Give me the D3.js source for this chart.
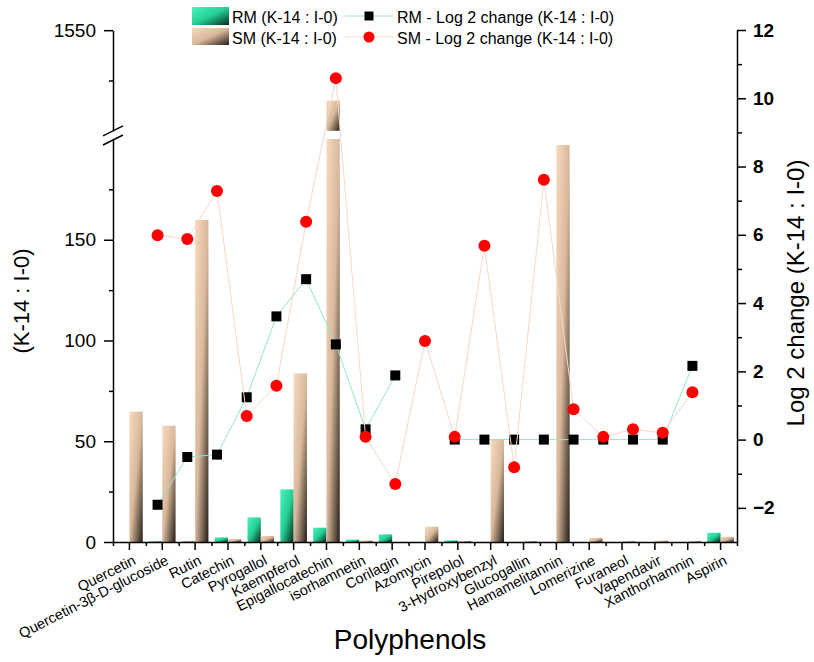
<!DOCTYPE html>
<html>
<head>
<meta charset="utf-8">
<script src="https://cdn.jsdelivr.net/npm/d3@7"></script>
<style>
  body { margin: 0; background: #fff; }
  svg { display: block; }
  text { font-family: "Liberation Sans", Arial, sans-serif; fill: #000; }
</style>
</head>
<body>
<svg id="chart" width="814" height="662"></svg>
<script>
// Polyphenol levels, ratio K-14 : I-0, for root (RM) and stem (SM) material
const categories = ["Quercetin", "Quercetin-3β-D-glucoside", "Rutin", "Catechin", "Pyrogallol",
  "Kaempferol", "Epigallocatechin", "isorhamnetin", "Corilagin", "Azomycin", "Pirepolol",
  "3-Hydroxybenzyl", "Glucogallin", "Hamamelitannin", "Lomerizine", "Furaneol", "Vapendavir",
  "Xanthorhamnin", "Aspirin"];

const rmAmount = [0, 0.4, 0.4, 2.3, 12.2, 26.1, 7.1, 1.2, 3.8, 0, 0.8, 0, 0, 0, 0, 0, 0, 0, 4.6];
const smAmount = [64.7, 57.7, 159.8, 1.5, 3.0, 83.7, 1515, 0.8, 0, 7.6, 0.6, 51.1, 0.5, 197, 2.1, 0.5, 0.7, 0.5, 2.6];

const rmLog2 = [-1.91, -0.51, -0.44, 1.24, 3.61, 4.70, 2.79, 0.30, 1.88, null, 0, 0, 0, 0, 0, 0, 0, 0, 2.16];
const smLog2 = [5.99, 5.88, 7.28, 0.69, 1.58, 6.38, 10.59, 0.08, -1.30, 2.89, 0.08, 5.68, -0.81, 7.61, 0.89, 0.08, 0.30, 0.20, 1.39];

const leftTicksLow = [0, 50, 100, 150];
const leftMinorLow = [25, 75, 125, 175];
const leftTicksHigh = [1550];
const leftMinorHigh = [1525];
const rightTicks = [-2, 0, 2, 4, 6, 8, 10, 12];
const rightMinor = [-1, 1, 3, 5, 7, 9, 11];

const svg = d3.select("#chart");
const X0 = 113, X1 = 737, YB = 542;

// scales: broken left axis (0–200 below the break, 1500–1550 above)
const x = d3.scaleBand().domain(categories).range([X0, X1]);
const xEdge = d3.scaleLinear().domain([0, categories.length]).range([X0, X1]);
const xLine = d3.scalePoint().domain(d3.range(-1, categories.length + 1)).range([X0, X1]).padding(0.5);
const yLow = d3.scaleLinear().domain([0, 200]).range([YB, 139]);
const yHigh = d3.scaleLinear().domain([1500, 1550]).range([130.8, 30.2]);
const yR = d3.scaleLinear().domain([-3, 12]).range([YB, 30]);

// gradients
const defs = svg.append("defs");
function grad(id, stops) {
  const g = defs.append("linearGradient").attr("id", id)
    .attr("x1", 0).attr("y1", 0).attr("x2", 1).attr("y2", 1);
  stops.forEach(([o, c]) => g.append("stop").attr("offset", o).attr("stop-color", c));
}
grad("gRM", [[0, "#48f3bf"], [0.5, "#25cf95"], [1, "#04291b"]]);
grad("gSM", [[0, "#f8dabe"], [0.5, "#d9b89a"], [1, "#231d18"]]);

// bars
const bw = x.bandwidth() * 0.405;
const barG = svg.append("g");
function drawBar(cat, v, offset, fill) {
  if (!(v > 0)) return;
  const cx = x(cat) + x.bandwidth() / 2 + offset;
  if (v <= 200) {
    barG.append("rect").attr("x", cx).attr("width", bw)
      .attr("y", yLow(v)).attr("height", YB - yLow(v)).attr("fill", fill);
  } else {
    barG.append("rect").attr("x", cx).attr("width", bw)
      .attr("y", yLow(200)).attr("height", YB - yLow(200)).attr("fill", fill);
    barG.append("rect").attr("x", cx).attr("width", bw)
      .attr("y", yHigh(v)).attr("height", yHigh(1500) - yHigh(v)).attr("fill", fill);
  }
}
categories.forEach((c, i) => {
  drawBar(c, rmAmount[i], -bw, "url(#gRM)");
  drawBar(c, smAmount[i], 0, "url(#gSM)");
});

// log2 change lines
const rmPts = rmLog2.map((v, i) => ({ i, v }));
const smPts = smLog2.map((v, i) => ({ i, v }));
const line = d3.line().defined(d => d.v != null).x(d => xLine(d.i)).y(d => yR(d.v));

svg.append("path").datum(rmPts).attr("d", line)
  .attr("fill", "none").attr("stroke", "#93e6cc").attr("stroke-width", 1);
svg.append("g").selectAll("rect").data(rmPts.filter(d => d.v != null)).join("rect")
  .attr("x", d => xLine(d.i) - 5).attr("y", d => yR(d.v) - 5)
  .attr("width", 10).attr("height", 10).attr("fill", "#000");

svg.append("path").datum(smPts).attr("d", line)
  .attr("fill", "none").attr("stroke", "#f4d8cc").attr("stroke-width", 1);
svg.append("g").selectAll("circle").data(smPts).join("circle")
  .attr("cx", d => xLine(d.i)).attr("cy", d => yR(d.v)).attr("r", 6).attr("fill", "#ff0000");

// axes
function styleAxis(g) {
  g.selectAll("path, line").attr("stroke", "#000").attr("stroke-width", 1.5);
  g.selectAll("text").style("font-family", '"Liberation Sans", Arial, sans-serif');
}
const blank = () => "";
const plain = d3.format("d");

// bottom axis
svg.append("g").attr("transform", `translate(0,${YB})`)
  .call(d3.axisBottom(x).tickSize(8).tickSizeOuter(0).tickFormat(blank))
  .call(styleAxis);
svg.append("g").attr("transform", `translate(0,${YB})`)
  .call(d3.axisBottom(xEdge).tickValues(d3.range(0, categories.length + 1)).tickSize(4).tickSizeOuter(0).tickFormat(blank))
  .call(g => g.select(".domain").remove())
  .call(styleAxis);

// left axis, lower segment
svg.append("g").attr("transform", `translate(${X0},0)`)
  .call(d3.axisLeft(yLow).tickValues(leftTicksLow).tickSize(9).tickSizeOuter(0).tickPadding(8).tickFormat(plain))
  .call(styleAxis)
  .call(g => g.selectAll("text").attr("font-size", 19));
svg.append("g").attr("transform", `translate(${X0},0)`)
  .call(d3.axisLeft(yLow).tickValues(leftMinorLow).tickSize(4).tickSizeOuter(0).tickFormat(blank))
  .call(g => g.select(".domain").remove())
  .call(styleAxis);
// left axis, upper segment
svg.append("g").attr("transform", `translate(${X0},0)`)
  .call(d3.axisLeft(yHigh).tickValues(leftTicksHigh).tickSize(9).tickSizeOuter(0).tickPadding(8).tickFormat(plain))
  .call(styleAxis)
  .call(g => g.selectAll("text").attr("font-size", 19));
svg.append("g").attr("transform", `translate(${X0},0)`)
  .call(d3.axisLeft(yHigh).tickValues(leftMinorHigh).tickSize(4).tickSizeOuter(0).tickFormat(blank))
  .call(g => g.select(".domain").remove())
  .call(styleAxis);

// break marks
const bTop = yHigh(1500), bBot = yLow(200);
[bTop, bBot + 1].forEach(yy => {
  svg.append("line").attr("x1", X0 - 10).attr("y1", yy + 5).attr("x2", X0 + 10).attr("y2", yy - 5)
    .attr("stroke", "#000").attr("stroke-width", 1.5);
});

// right axis
svg.append("g").attr("transform", `translate(${X1},0)`)
  .call(d3.axisRight(yR).tickValues(rightTicks).tickSize(9).tickSizeOuter(0).tickPadding(7))
  .call(styleAxis)
  .call(g => g.selectAll("text").attr("font-size", 19).attr("font-weight", "bold"));
svg.append("g").attr("transform", `translate(${X1},0)`)
  .call(d3.axisRight(yR).tickValues(rightMinor).tickSize(5).tickSizeOuter(0).tickFormat(blank))
  .call(g => g.select(".domain").remove())
  .call(styleAxis);

// category labels
svg.append("g").selectAll("text").data(categories).join("text")
  .attr("transform", d => `translate(${x(d) + x.bandwidth() / 2 + 5},559) rotate(-27)`)
  .attr("text-anchor", "end").attr("dy", "0.35em")
  .attr("font-size", 14.5).text(d => d);

// titles
svg.append("text").attr("x", 410).attr("y", 649).attr("text-anchor", "middle")
  .attr("font-size", 28).text("Polyphenols");
svg.append("text").attr("transform", "translate(29,301) rotate(-90)").attr("text-anchor", "middle")
  .attr("font-size", 22).text("(K-14 : I-0)");
svg.append("text").attr("transform", "translate(804,293) rotate(-90)").attr("text-anchor", "middle")
  .attr("font-size", 24).text("Log 2 change (K-14 : I-0)");

// legend
const lg = svg.append("g");
lg.append("rect").attr("x", 192).attr("y", 7).attr("width", 37).attr("height", 18).attr("fill", "url(#gRM)");
lg.append("rect").attr("x", 192).attr("y", 28).attr("width", 37).attr("height", 17).attr("fill", "url(#gSM)");
lg.append("text").attr("x", 232).attr("y", 23).attr("font-size", 16).text("RM (K-14 : I-0)");
lg.append("text").attr("x", 232).attr("y", 44).attr("font-size", 16).text("SM (K-14 : I-0)");
lg.append("line").attr("x1", 345).attr("x2", 393).attr("y1", 16).attr("y2", 16)
  .attr("stroke", "#93e6cc").attr("stroke-width", 1);
lg.append("rect").attr("x", 364.5).attr("y", 11.5).attr("width", 9).attr("height", 9).attr("fill", "#000");
lg.append("line").attr("x1", 345).attr("x2", 393).attr("y1", 37).attr("y2", 37)
  .attr("stroke", "#f4d8cc").attr("stroke-width", 1);
lg.append("circle").attr("cx", 369).attr("cy", 37).attr("r", 5.5).attr("fill", "#ff0000");
lg.append("text").attr("x", 397).attr("y", 23).attr("font-size", 16).text("RM - Log 2 change (K-14 : I-0)");
lg.append("text").attr("x", 397).attr("y", 44).attr("font-size", 16).text("SM - Log 2 change (K-14 : I-0)");
</script>
</body>
</html>
